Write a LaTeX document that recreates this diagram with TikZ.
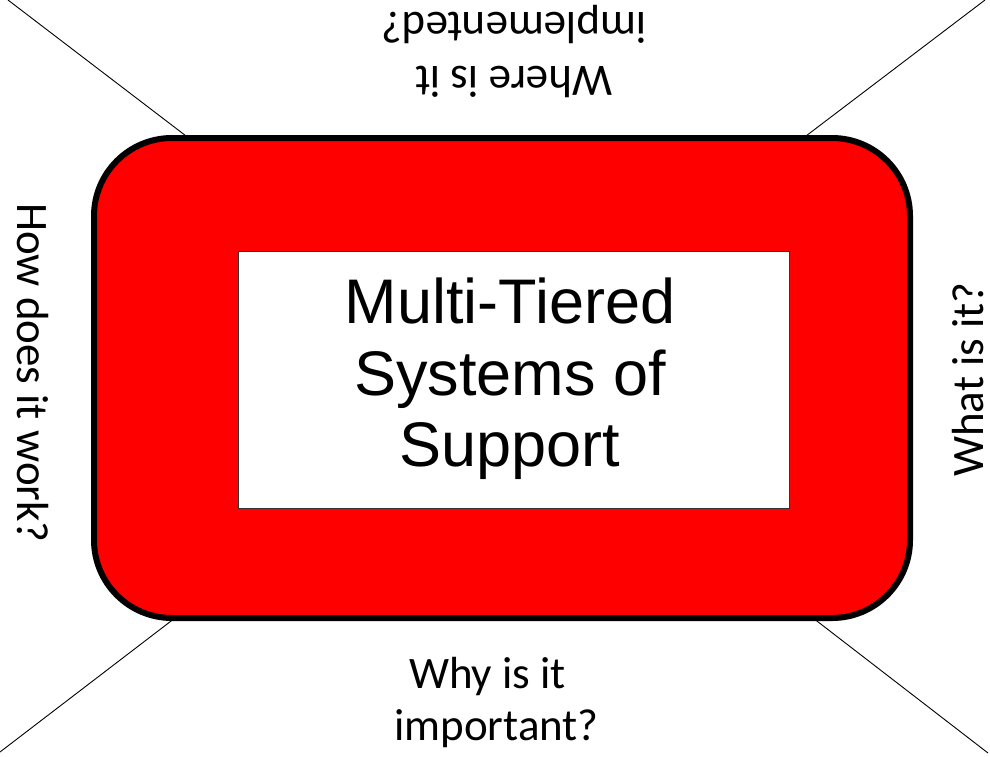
\documentclass[tikz,border=0pt]{standalone}
\usepackage{fontspec}
\setmainfont{Liberation Sans}
\newfontfamily\calibrifont{Carlito}
\begin{document}
\begin{tikzpicture}[x=1pt,y=-1pt,
  spoke/.style={draw=black,line width=0.9pt},
  framebox/.style={draw=black,line width=6pt,fill=red,rounded corners=78pt,
    minimum width=816pt,minimum height=480pt,inner sep=0pt},
  corebox/.style={draw=black!80,line width=1pt,fill=white,
    minimum width=551pt,minimum height=257pt,inner sep=0pt},
  titletext/.style={font=\fontsize{63}{71.5}\selectfont,align=center,inner sep=0pt},
  question/.style={font=\calibrifont\fontsize{45}{54}\selectfont,inner sep=0pt,anchor=base}]
\useasboundingbox (0,0) rectangle (990,756);
% corner spokes
\coordinate (tlOut) at (8,0);
\coordinate (tlIn) at (190,139);
\coordinate (trOut) at (985,0);
\coordinate (trIn) at (802,139);
\coordinate (blOut) at (0,752);
\coordinate (blIn) at (175,618);
\coordinate (brOut) at (988,753);
\coordinate (brIn) at (813,618);
\draw[spoke] (tlOut) -- (tlIn);
\draw[spoke] (trOut) -- (trIn);
\draw[spoke] (blOut) -- (blIn);
\draw[spoke] (brOut) -- (brIn);
% boxes
\node[framebox] (frame) at (502,378) {};
\node[corebox] (core) at (513.5,379.5) {};
\node[titletext] (title) at (510,379) {Multi-Tiered\\Systems of\\Support};
% questions
\node[question] (whyA) at (487.5,688) {Why is it};
\node[question] (whyB) at (496.5,740) {important?};
\node[question,rotate=180] (whereA) at (514,66) {Where is it};
\node[question,rotate=180] (whereB) at (514,12) {implemented?};
\node[question,rotate=-90] (how) at (17,373) {How does it work?};
\node[question,rotate=90] (what) at (983,379.5) {What is it?};
\end{tikzpicture}
\end{document}
